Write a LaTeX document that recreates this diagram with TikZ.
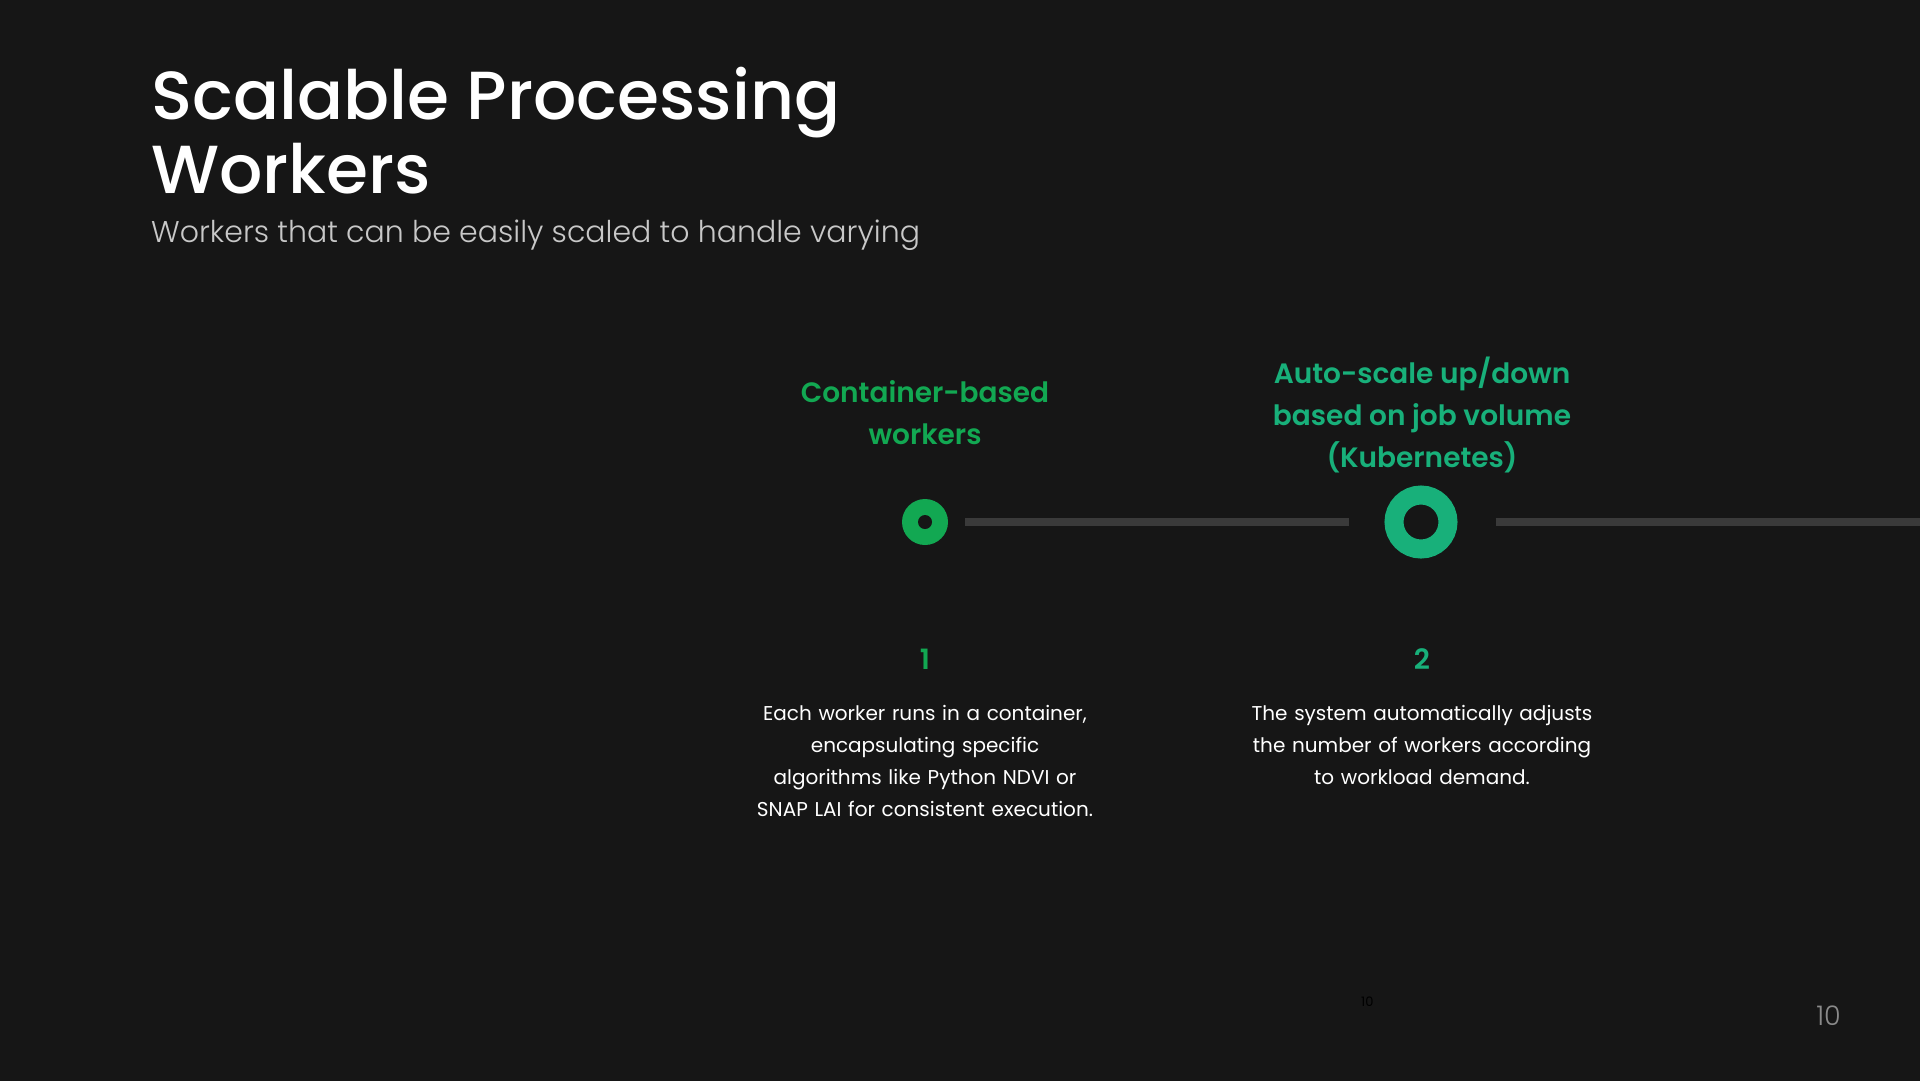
\documentclass[tikz,border=0pt]{standalone}
\usepackage{fontspec}
\setmainfont{Poppins}
\newfontfamily\popmed{Poppins Medium}
\newfontfamily\popsemi{Poppins SemiBold}
\newfontfamily\poplight{Poppins Light}
\usetikzlibrary{positioning}

\definecolor{slidebg}{HTML}{161616}
\definecolor{trackgray}{HTML}{3A3A3A}
\definecolor{leafgreen}{HTML}{12A852}
\definecolor{tealgreen}{HTML}{18B07A}
\definecolor{subgray}{HTML}{C8C8C8}
\definecolor{pagegray}{HTML}{8A8A8A}

\begin{document}
\begin{tikzpicture}[
    x=1pt, y=-1pt,
    node distance=496pt,
    on grid,
    track/.style={draw=trackgray, line width=8.5pt},
    stephead/.style={font=\popsemi\fontsize{28}{42}\selectfont, align=center, anchor=base},
    stepnum/.style={font=\popsemi\fontsize{28}{32}\selectfont, anchor=base},
    stepdesc/.style={font=\fontsize{20}{32}\selectfont, text=white, text width=400pt,
      align=center, anchor=base},
  ]

  \useasboundingbox (0,0) rectangle (1920,1080);
  \fill[slidebg] (-4,-4) rectangle (1924,1084);

  % heading
  \node[anchor=base west, text=white, align=left, inner sep=0pt,
    font=\popmed\fontsize{68}{74}\selectfont] (title) at (151,193)
    {Scalable Processing\\Workers};
  \node[anchor=base west, text=subgray, inner sep=0pt,
    font=\poplight\fontsize{30}{36}\selectfont] (subtitle) at (151,242)
    {Workers that can be easily scaled to handle varying};

  % timeline
  \node[circle, fill=leafgreen, minimum size=46pt, inner sep=0pt, outer sep=0pt]
    (ring1) at (925,522) {};
  \node[circle, fill=slidebg, minimum size=14pt, inner sep=0pt] (hole1) at (ring1) {};
  \node[circle, draw=tealgreen, line width=19pt, minimum size=54pt, inner sep=0pt,
    outer sep=9.5pt, right=of ring1] (ring2) {};
  \coordinate (trackend) at (1920,522);

  \draw[track, shorten <=17pt, shorten >=36pt] (ring1) -- (ring2);
  \draw[track, shorten <=38pt] (ring2) -- (trackend);

  % step 1
  \node[stephead, text=leafgreen] (head1) at (925,444) {Container-based\\workers};
  \node[stepnum, text=leafgreen] (num1) at (925,669) {1};
  \node[stepdesc] (desc1) at (925,720)
    {Each worker runs in a container,\\encapsulating specific\\algorithms like Python NDVI or\\SNAP LAI for consistent execution.};

  % step 2
  \node[stephead, text=tealgreen] (head2) at (1422,467)
    {Auto-scale up/down\\based on job volume\\(Kubernetes)};
  \node[stepnum, text=tealgreen] (num2) at (1422,669) {2};
  \node[stepdesc] (desc2) at (1422,720)
    {The system automatically adjusts\\the number of workers according\\to workload demand.};

  % page numbers
  \node[anchor=base west, text=black, inner sep=0pt, font=\fontsize{13}{14}\selectfont]
    (tinynum) at (1361,1006) {10};
  \node[anchor=base east, text=pagegray, inner sep=0pt, font=\poplight\fontsize{27}{30}\selectfont]
    (pagenum) at (1841,1025) {10};

\end{tikzpicture}
\end{document}
